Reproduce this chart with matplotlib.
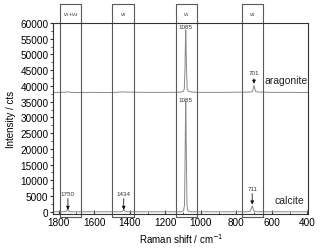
import matplotlib
matplotlib.use("Agg")
import matplotlib.pyplot as plt
from matplotlib.ticker import MultipleLocator

plt.rcParams['font.family'] = ['Liberation Sans', 'DejaVu Sans']

# Spectra (Raman shift in cm^-1, intensity in cts)
arag_x = [1830, 1790, 1760, 1750, 1740, 1700, 1600, 1500, 1440, 1434, 1428, 1300, 1200, 1120, 1100, 1093,
          1089, 1086, 1085, 1084, 1081, 1077, 1070, 1050, 1000, 900, 800, 720, 710, 705, 701, 697, 692,
          680, 600, 500, 395]
arag_y = [37900, 37950, 38050, 38150, 38000, 37900, 37950, 37900, 38100, 38150, 38050, 37950, 37950, 38000, 38200, 39000,
          46000, 56500, 57800, 56500, 46000, 39000, 38300, 38050, 37950, 37950, 38000, 38050, 38300, 39200, 40100, 39200, 38300,
          38050, 37950, 37950, 37900]

calc_x = [1830, 1770, 1756, 1750, 1744, 1730, 1600, 1450, 1440, 1434, 1428, 1415, 1200, 1110, 1098, 1092,
          1088, 1086, 1085, 1084, 1082, 1078, 1072, 1060, 950, 740, 722, 716, 711, 706, 700, 680, 500, 395]
calc_y = [0, 0, 200, 800, 200, 0, 0, 0, 200, 800, 200, 0, 0, 0, 300, 2000,
          20000, 33000, 35000, 33000, 20000, 2000, 300, 0, 0, 0, 200, 1000, 1900, 1000, 200, 0, 0, 0]

# band boxes (x range) and labels
band_lo = [1673, 1375, 1020, 650]
band_hi = [1793, 1500, 1140, 770]
band_labels = [r'$\nu_1$+$\nu_4$', r'$\nu_3$', r'$\nu_1$', r'$\nu_4$']

# peak annotations: (label, x, label y, arrow tail y, arrow head y)
ann_text = ['1085', '701', '1085', '1750', '1434', '711']
ann_x = [1085, 701, 1085, 1748, 1434, 711]
ann_ylab = [59000, 44300, 35600, 5900, 5900, 7500]
ann_tail = [None, 42300, None, 4200, 4200, 5800]
ann_head = [None, 40700, None, 600, 600, 2300]

fig = plt.figure(figsize=(3.2, 2.51), dpi=100)
ax = fig.add_axes([0.1667, 0.1434, 0.7969, 0.7610])

line_col = '#8a8a8a'
ax.plot(arag_x, arag_y, color=line_col, lw=0.7)
ax.plot(calc_x, calc_y, color=line_col, lw=0.7)

ax.set_xlim(1830, 395)
ax.set_ylim(-700, 60000)

box_col = '#5a5a5a'
for lo, hi, lab in zip(band_lo, band_hi, band_labels):
    ax.plot([lo, lo, hi, hi, lo], [-1500, 66000, 66000, -1500, -1500], color=box_col,
            lw=0.8, clip_on=False)
    ax.text((lo + hi) / 2, 63000, lab, ha='center', va='center', fontsize=3.8,
            color='#333333', clip_on=False)

for t, x, yl, yt, yh in zip(ann_text, ann_x, ann_ylab, ann_tail, ann_head):
    ax.text(x, yl, t, ha='center', va='center', fontsize=4.5, color='#333333')
    if yt is not None:
        ax.annotate('', xy=(x, yh), xytext=(x, yt),
                    arrowprops=dict(arrowstyle='-|>', color='#111111', lw=0.6,
                                    mutation_scale=5, shrinkA=0, shrinkB=0))

ax.text(643, 41900, 'aragonite', ha='left', va='center', fontsize=7.5, color='#222222')
ax.text(583, 3700, 'calcite', ha='left', va='center', fontsize=7.5, color='#222222')

ax.xaxis.set_major_locator(MultipleLocator(200))
ax.xaxis.set_minor_locator(MultipleLocator(100))
ax.yaxis.set_major_locator(MultipleLocator(5000))
ax.yaxis.set_minor_locator(MultipleLocator(2500))
ax.tick_params(axis='x', which='both', direction='in', labelsize=7.2, pad=2, color='#333333')
ax.tick_params(axis='x', which='major', length=3)
ax.tick_params(axis='x', which='minor', length=1.8)
ax.tick_params(axis='y', which='both', direction='out', labelsize=7.2, pad=1, color='#333333')
ax.tick_params(axis='y', which='major', length=2.5)
ax.tick_params(axis='y', which='minor', length=1.5)

for s in ax.spines.values():
    s.set_color('#333333')
    s.set_linewidth(0.8)

ax.set_xlabel('Raman shift / cm$^{-1}$', fontsize=7, labelpad=3)
ax.set_ylabel('Intensity / cts', fontsize=7, labelpad=3)

fig.savefig('out.png', dpi=100)
